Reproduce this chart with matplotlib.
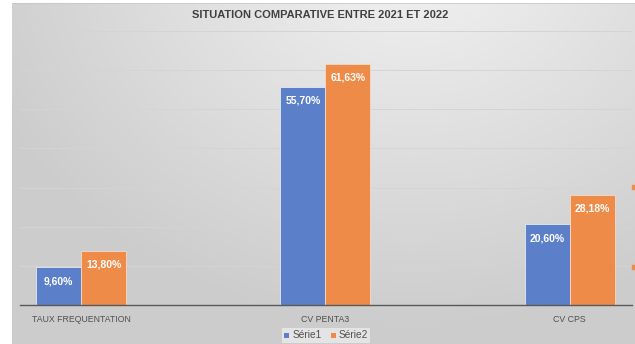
import numpy as np
import matplotlib.pyplot as plt
from matplotlib.patches import Rectangle

# comparison 2021 vs 2022
categories = ['TAUX FREQUENTATION', 'CV PENTA3', 'CV CPS']
serie1 = [9.60, 55.70, 20.60]
serie2 = [13.80, 61.63, 28.18]
series_names = ['Série1', 'Série2']
title = 'SITUATION COMPARATIVE ENTRE 2021 ET 2022'

blue = '#5b80c9'
orange = '#ee8b48'
txt = '#404040'

plt.rcParams['font.family'] = ['Liberation Sans', 'DejaVu Sans']

W, H = 635, 344
fig = plt.figure(figsize=(W / 100, H / 100), dpi=100)
fig.patch.set_facecolor('white')

# soft grey gradient behind the chart
bg = fig.add_axes([12 / W, 0, 1 - 12 / W, 341 / H])
yy, xx = np.mgrid[0:341, 0:623]
d = np.sqrt(((xx - 400) / 480.0) ** 2 + ((yy + 60) / 400.0) ** 2)
shade = np.clip(0.955 - 0.16 * d, 0.80, 0.95)
bg.imshow(np.dstack([shade] * 3), aspect='auto', extent=(0, 1, 0, 1), origin='upper')
bg.axhline(1, color='#c8c8c8', lw=1.2)
bg.set_axis_off()

ax = fig.add_axes([20 / W, (H - 305) / H, (632 - 20) / W, (305 - 31) / H])
ax.patch.set_alpha(0)
x = np.arange(len(categories))
w = 0.184
b1 = ax.bar(x - w / 2, serie1, w, color=blue, edgecolor='#e4e9f3', linewidth=0.6, label=series_names[0], zorder=3)
b2 = ax.bar(x + w / 2, serie2, w, color=orange, edgecolor='#f6dcc8', linewidth=0.6, label=series_names[1], zorder=3)

for bars, vals in [(b1, serie1), (b2, serie2)]:
    for r, v in zip(bars, vals):
        ax.annotate(f'{v:.2f}%'.replace('.', ','), (r.get_x() + r.get_width() / 2, v),
                    xytext=(0, -10), textcoords='offset points', ha='center', va='center',
                    color='white', fontsize=7.5, fontweight='bold', zorder=4)

ax.set_xlim(-0.25, 2.255)
ax.set_ylim(0, 70)
ax.set_yticks(np.arange(10, 71, 10))
ax.yaxis.grid(True, color='#d4d4d4', lw=0.7, zorder=0)
ax.tick_params(axis='y', left=False, labelleft=False)
ax.set_xticks(x)
ax.set_xticklabels(categories, fontsize=6.3, color='#505050')
ax.tick_params(axis='x', length=0, pad=7)
for s in ['top', 'right', 'left']:
    ax.spines[s].set_visible(False)
ax.spines['bottom'].set_color('#595959')
ax.spines['bottom'].set_linewidth(1.0)
ax.spines['bottom'].set_zorder(5)

fig.text(320 / W, 1 - 15 / H, title, ha='center', va='center', fontsize=8,
         fontweight='bold', color=txt)

leg = fig.legend(handles=[b1, b2], labels=series_names, loc='center',
                 bbox_to_anchor=(326 / W, 1 - 335.5 / H), ncol=2, fontsize=7.3,
                 frameon=True, handlelength=0.5, handleheight=0.55, handletextpad=0.3,
                 columnspacing=0.9, borderpad=0.25, labelcolor='#505050')
leg.get_frame().set_facecolor('#ebebeb')
leg.get_frame().set_edgecolor('none')
leg.get_frame().set_boxstyle('square', pad=0)
for h in leg.legend_handles:
    h.set_linewidth(0)
    h.set_height(h.get_width())

# small orange marks at the right edge
for yp in (187, 267):
    fig.patches.append(Rectangle((632 / W, 1 - (yp + 2) / H), 3 / W, 4 / H,
                                 transform=fig.transFigure, color=orange))

fig.savefig('out.png', dpi=100)
